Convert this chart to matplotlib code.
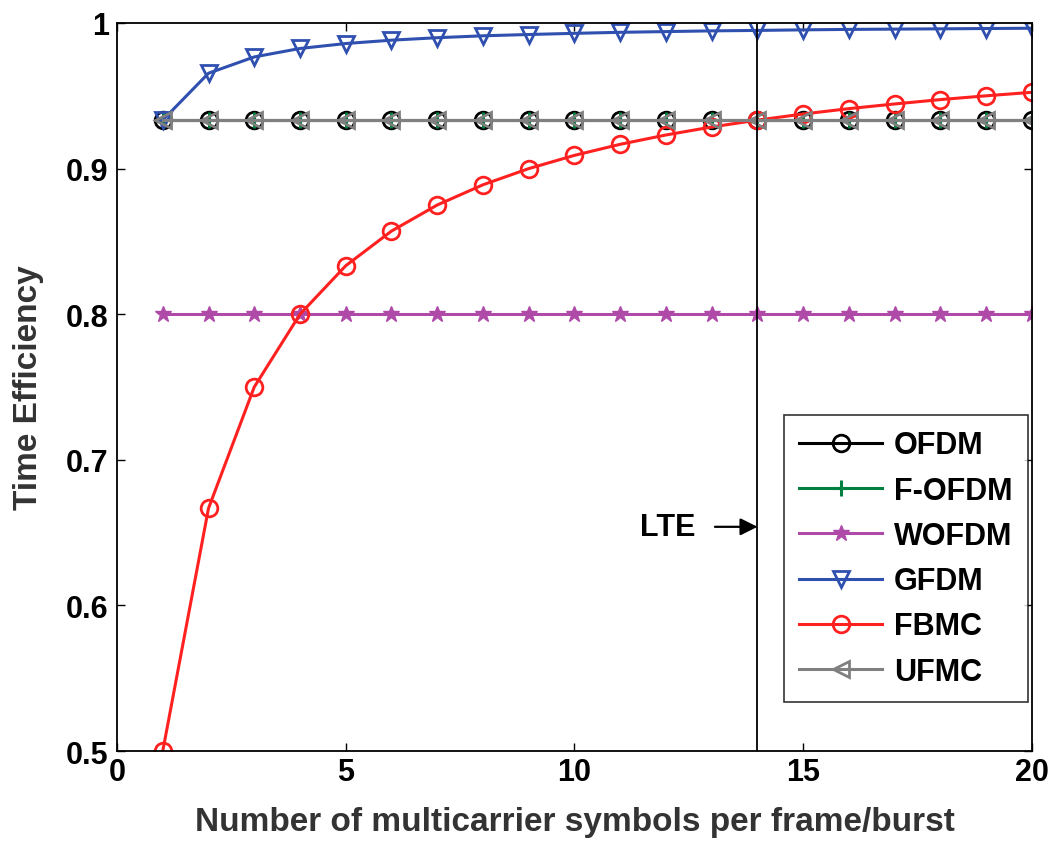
import matplotlib
matplotlib.use("Agg")
import matplotlib.pyplot as plt

plt.rcParams['font.family'] = ['Liberation Sans', 'DejaVu Sans']
plt.rcParams['font.weight'] = 'bold'

# Data
symbols = list(range(1, 21))
ofdm = [0.9333] * 20
f_ofdm = [0.9333] * 20
wofdm = [0.8] * 20
gfdm = [0.9333, 0.9655, 0.9767, 0.9825, 0.9859, 0.9882, 0.9899, 0.9912, 0.9921, 0.9929,
        0.9936, 0.9941, 0.9946, 0.9949, 0.9953, 0.9956, 0.9958, 0.9960, 0.9962, 0.9964]
fbmc = [0.5, 0.6667, 0.75, 0.8, 0.8333, 0.8571, 0.875, 0.8889, 0.9, 0.9091,
        0.9167, 0.9231, 0.9286, 0.9333, 0.9375, 0.9412, 0.9444, 0.9474, 0.95, 0.9524]
ufmc = [0.9333] * 20
lte_x = 14
lte_y = 0.654

fig = plt.figure(figsize=(10.57, 8.45), dpi=100)
ax = fig.add_axes([0.1107, 0.110, 0.8656, 0.8616])

ms = 12
lw = 2.2
ax.plot(symbols, ofdm, '-o', color='black', lw=lw, ms=ms, mfc='none', mew=2, label='OFDM')
ax.plot(symbols, f_ofdm, '-+', color='#008040', lw=lw, ms=ms, mew=2.2, label='F-OFDM')
ax.plot(symbols, wofdm, '-*', color='#b04aa8', lw=lw, ms=ms, label='WOFDM')
ax.plot(symbols, gfdm, '-v', color='#3050b0', lw=lw, ms=ms, mfc='none', mew=2, label='GFDM')
ax.plot(symbols, fbmc, '-o', color='#ff2020', lw=lw, ms=ms, mfc='none', mew=2, label='FBMC')
ax.plot(symbols, ufmc, '-<', color='#808080', lw=lw, ms=ms, mfc='none', mew=2, label='UFMC')

# LTE marker line and annotation
ax.axvline(lte_x, color='black', lw=1.3)
ax.text(12.04, lte_y, 'LTE', ha='center', va='center', fontsize=22, fontweight='bold')
ax.annotate('', xy=(lte_x, lte_y), xytext=(13.07, lte_y),
            arrowprops=dict(arrowstyle='-|>', color='black', lw=1.6,
                            mutation_scale=26, shrinkA=0, shrinkB=0))

ax.set_xlim(0, 20)
ax.set_ylim(0.5, 1)
ax.set_xticks([0, 5, 10, 15, 20])
ax.set_yticks([0.5, 0.6, 0.7, 0.8, 0.9, 1.0])
ax.set_yticklabels(['0.5', '0.6', '0.7', '0.8', '0.9', '1'])
ax.tick_params(direction='in', length=6, width=1, labelsize=22, top=True, right=True)
ax.tick_params(axis='y', pad=6)
ax.tick_params(axis='x', pad=4)
for lbl in ax.get_xticklabels() + ax.get_yticklabels():
    lbl.set_fontweight('bold')
for s in ax.spines.values():
    s.set_linewidth(1.3)

ax.set_xlabel('Number of multicarrier symbols per frame/burst', fontsize=24,
              fontweight='bold', color='#333333', labelpad=14)
ax.set_ylabel('Time Efficiency', fontsize=24, fontweight='bold', color='#333333', labelpad=16)

leg = ax.legend(loc='lower right', fontsize=22, frameon=True, fancybox=False,
                edgecolor='black', handlelength=2.7, handletextpad=0.4,
                borderpad=0.5, labelspacing=0.5, borderaxespad=0,
                bbox_to_anchor=(0.9956, 0.0673))
leg.get_frame().set_linewidth(1.2)
for t in leg.get_texts():
    t.set_fontweight('bold')

fig.savefig('out.png', dpi=100, facecolor='white')
